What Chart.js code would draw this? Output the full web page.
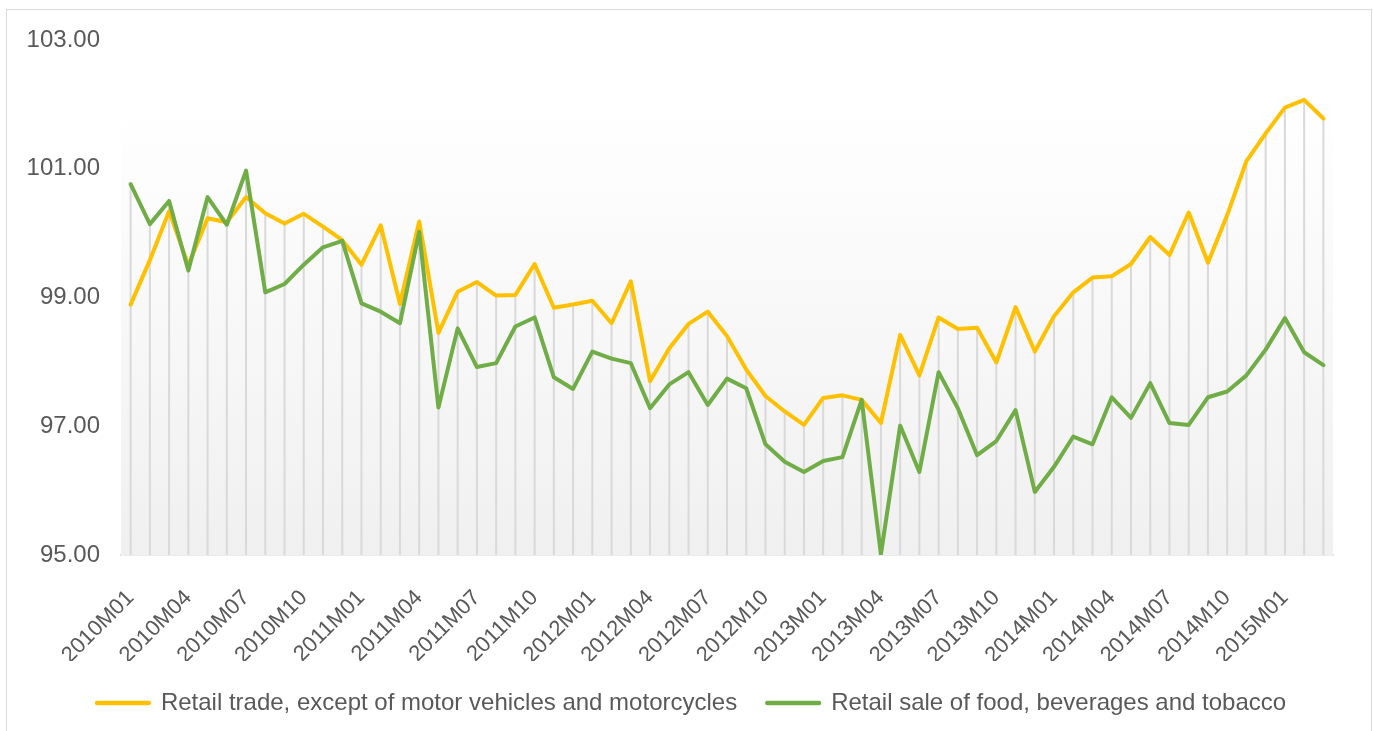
<!DOCTYPE html>
<html>
<head>
<meta charset="utf-8">
<script src="https://cdn.jsdelivr.net/npm/chart.js@4.4.1/dist/chart.umd.min.js"></script>
<style>
  body { margin: 0; background: #fff; }
  #frame { position: absolute; left: 6px; top: 9px; width: 1366px; height: 740px; border: 1px solid #d9d9d9; box-sizing: border-box; }
  #wrap { position: absolute; left: 0; top: 0; width: 1373px; height: 731px; }
</style>
</head>
<body>
<div id="frame"></div>
<div id="wrap"><canvas id="retailChart"></canvas></div>
<script>
// months 2010M01 .. 2015M03
const years = [2010, 2011, 2012, 2013, 2014, 2015];
const months = [];
years.forEach(y => {
    for (let m = 1; m <= 12; m++) {
        if (y === 2015 && m > 3) break;
        months.push(y + 'M' + (m < 10 ? '0' + m : m));
    }
});

const retailTrade = [
    98.89, 99.58, 100.34, 99.50, 100.23, 100.17, 100.56, 100.31, 100.15, 100.30, 100.10, 99.89,
    99.51, 100.12, 98.90, 100.18, 98.45, 99.09, 99.24, 99.03, 99.04, 99.52, 98.84, 98.89,
    98.95, 98.60, 99.25, 97.70, 98.21, 98.59, 98.78, 98.40, 97.88, 97.47, 97.23, 97.02,
    97.44, 97.48, 97.41, 97.05, 98.42, 97.79, 98.69, 98.51, 98.53, 97.99, 98.85, 98.16,
    98.71, 99.08, 99.31, 99.33, 99.52, 99.94, 99.66, 100.32, 99.54, 100.28, 101.12, 101.55,
    101.95, 102.07, 101.78
];
const foodBevTobacco = [
    100.76, 100.14, 100.50, 99.42, 100.56, 100.13, 100.97, 99.08, 99.21, 99.51, 99.78, 99.88,
    98.91, 98.78, 98.60, 100.02, 97.29, 98.52, 97.92, 97.98, 98.55, 98.69, 97.76, 97.58,
    98.16, 98.05, 97.98, 97.28, 97.65, 97.84, 97.33, 97.74, 97.59, 96.72, 96.45, 96.29,
    96.46, 96.52, 97.41, 95.01, 97.01, 96.29, 97.84, 97.28, 96.55, 96.77, 97.25, 95.98,
    96.37, 96.84, 96.72, 97.45, 97.13, 97.67, 97.05, 97.02, 97.45, 97.54, 97.79, 98.19,
    98.68, 98.15, 97.95
];

const yTicks = [95, 97, 99, 101, 103];
const font = 'Liberation Sans, Arial, sans-serif';

// gradient plot area + drop lines from the higher series down to the axis
const plotDecor = {
    id: 'plotDecor',
    afterLayout(chart) {
        // nudge the legend a little to the right, like the original
        chart.legend.left += 15;
        chart.legend.right += 15;
    },
    beforeDatasetsDraw(chart) {
        const { ctx, chartArea: a, scales } = chart;
        ctx.save();
        const g = ctx.createLinearGradient(0, a.top, 0, a.bottom);
        g.addColorStop(0, '#ffffff');
        g.addColorStop(0.12, '#ffffff');
        g.addColorStop(1, '#f0f0f0');
        ctx.fillStyle = g;
        ctx.fillRect(a.left, a.top, a.right - a.left, a.bottom - a.top);
        ctx.strokeStyle = '#d9d9d9';
        ctx.lineWidth = 2;
        months.forEach((m, i) => {
            const x = scales.x.getPixelForValue(i);
            const top = scales.y.getPixelForValue(Math.max(retailTrade[i], foodBevTobacco[i]));
            ctx.beginPath();
            ctx.moveTo(x, top);
            ctx.lineTo(x, a.bottom);
            ctx.stroke();
        });
        ctx.restore();
    }
};

const ctx = document.getElementById('retailChart').getContext('2d');
new Chart(ctx, {
    type: 'line',
    data: {
        labels: months,
        datasets: [{
            label: 'Retail trade, except of motor vehicles and motorcycles',
            data: retailTrade,
            borderColor: '#ffc000',
            backgroundColor: '#ffc000',
            borderWidth: 4,
            pointRadius: 0,
            tension: 0,
            borderJoinStyle: 'round',
            borderCapStyle: 'round',
            order: 1
        }, {
            label: 'Retail sale of food, beverages and tobacco',
            data: foodBevTobacco,
            borderColor: '#70ad47',
            backgroundColor: '#70ad47',
            borderWidth: 4,
            pointRadius: 0,
            tension: 0,
            borderJoinStyle: 'round',
            borderCapStyle: 'round',
            order: 0
        }]
    },
    options: {
        responsive: true,
        maintainAspectRatio: false,
        animation: false,
        layout: { padding: { left: 20, right: 40, top: 40, bottom: 6 } },
        plugins: {
            tooltip: { enabled: false },
            legend: {
                position: 'bottom',
                labels: {
                    boxWidth: 52,
                    boxHeight: 0.5,
                    padding: 30,
                    color: '#595959',
                    font: { family: font, size: 24 },
                    sort: (a, b) => a.datasetIndex - b.datasetIndex
                }
            }
        },
        scales: {
            x: {
                offset: true,
                grid: { display: false },
                border: { color: '#d9d9d9', width: 1.5 },
                afterFit(scale) { scale.height = 106; },
                ticks: {
                    autoSkip: false,
                    maxRotation: 45,
                    minRotation: 45,
                    padding: 22,
                    color: '#595959',
                    font: { family: font, size: 22 },
                    callback(v, i) { return i % 3 === 0 ? months[i] : ''; }
                }
            },
            y: {
                min: 95,
                max: 103,
                afterFit(scale) { scale.width = 101; },
                afterBuildTicks(scale) { scale.ticks = yTicks.map(v => ({ value: v })); },
                grid: { display: false, drawTicks: false },
                border: { display: false },
                ticks: {
                    padding: 21,
                    color: '#595959',
                    font: { family: font, size: 24 },
                    callback(v) { return v.toFixed(2); }
                }
            }
        }
    },
    plugins: [plotDecor]
});
</script>
</body>
</html>
